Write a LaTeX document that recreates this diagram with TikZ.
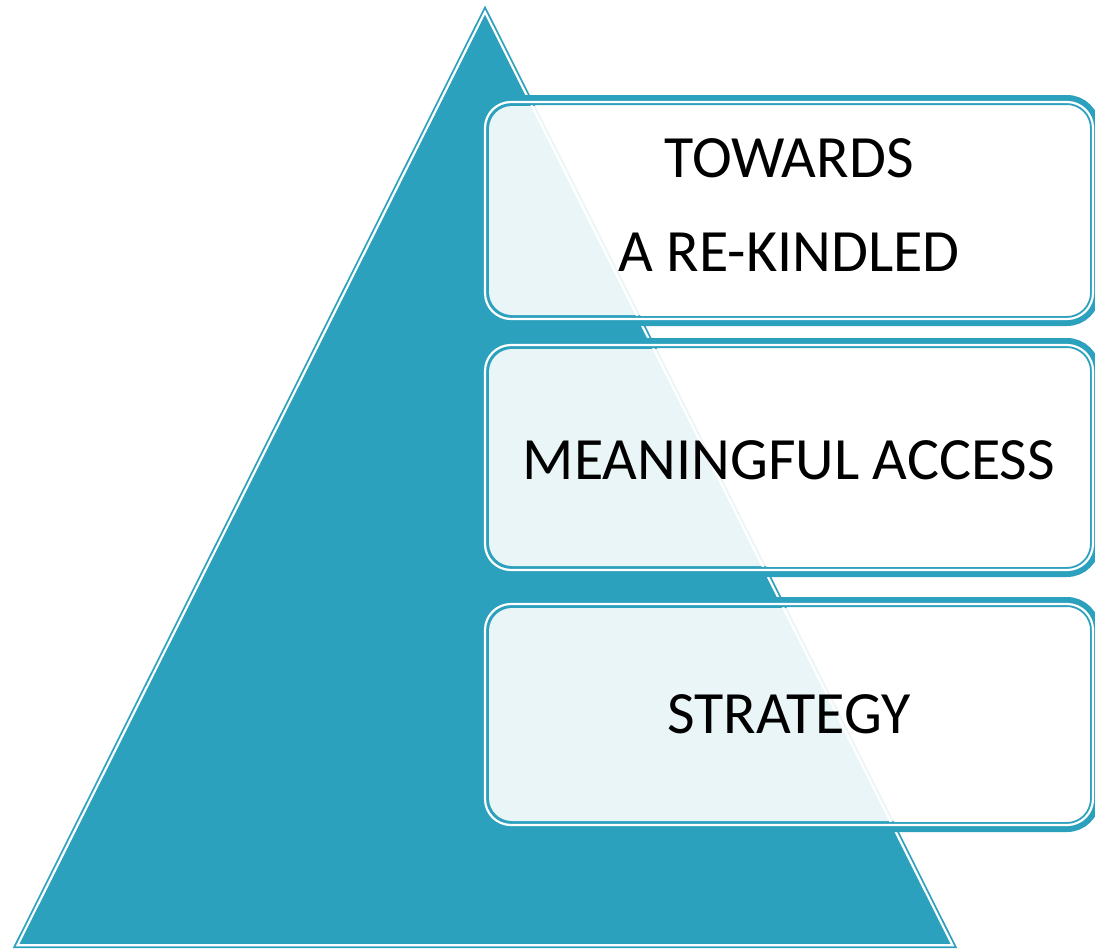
\documentclass[tikz,border=0pt]{standalone}
\usepackage{fontspec}
\setmainfont{Carlito}
\definecolor{teal1}{HTML}{2CA1BE}
\begin{document}
\begin{tikzpicture}[x=1pt,y=-1pt,
  tri/.style={fill=teal1,draw=teal1,double=white,double distance=2.2,line width=1.8,line join=miter},
  band/.style={draw=teal1,line width=10,rounded corners=28},
  gap/.style={draw=white,line width=2.2,rounded corners=26},
  box/.style={rectangle,rounded corners=23,fill=white,fill opacity=0.9,text opacity=1,
    minimum width=600,inner sep=0,align=center,text=black},
  lbl/.style={font=\fontsize{60}{94}\selectfont}]
\useasboundingbox (0,0) rectangle (1095,950);
\clip (0,0) rectangle (1095,950);
\path[tri] (485,12) -- (952.5,945.2) -- (17.5,945.2) -- cycle;
\coordinate (c1) at (789,210.5);
\coordinate (c2) at (789,457.5);
\coordinate (c3) at (789,714.5);
\foreach \c/\h in {c1/213,c2/221,c3/217}{
  \draw[band] ([shift={(-306,-\h/2-4)}]\c) rectangle ([shift={(306,\h/2+4)}]\c);
  \draw[gap] ([shift={(-304,-\h/2-2)}]\c) rectangle ([shift={(304,\h/2+2)}]\c);
}
\node[box,minimum height=209] (b1) at (c1) {};
\node[box,minimum height=217] (b2) at (c2) {};
\node[box,minimum height=213] (b3) at (c3) {};
\node[lbl,align=center] (t1) at ([yshift=5]b1.center) {TOWARDS\\\hspace*{0pt}A RE-KINDLED};
\node[lbl] (t2) at ([yshift=-3]b2.center) {MEANINGFUL ACCESS};
\node[lbl] (t3) at ([yshift=0]b3.center) {STRATEGY};
\end{tikzpicture}
\end{document}
